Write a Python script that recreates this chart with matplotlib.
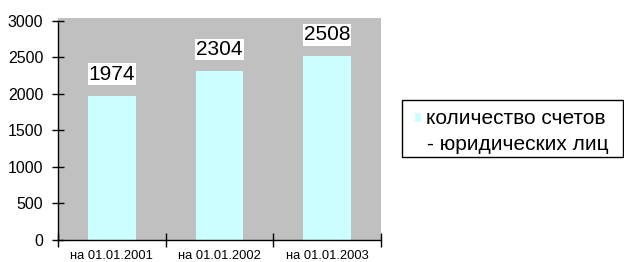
import matplotlib
matplotlib.use('Agg')
import matplotlib.pyplot as plt
from matplotlib.patches import Rectangle
import numpy as np

categories = ['на 01.01.2001', 'на 01.01.2002', 'на 01.01.2003']
values = [1974, 2304, 2508]
legend_line1 = 'количество счетов'
legend_line2 = '- юридических лиц'
yticks = [0, 500, 1000, 1500, 2000, 2500, 3000]

plt.rcParams['font.family'] = ['Liberation Sans', 'DejaVu Sans']

W, H = 624, 262
fig = plt.figure(figsize=(W / 100, H / 100), dpi=100)
ax = fig.add_axes([58 / W, 22 / H, 323 / W, 219.5 / H])

bar_color = '#CCFFFF'
bg = '#C0C0C0'

ax.set_facecolor('none')
ax.add_patch(Rectangle((0, 0), 1, 1.01, transform=ax.transAxes,
                       facecolor=bg, edgecolor='none', zorder=0, clip_on=False))

x = np.arange(len(categories))
ax.bar(x, values, width=0.44, color=bar_color, zorder=2)

for xi, v in zip(x, values):
    ax.annotate(str(v), (xi, v), xytext=(0, 15.5), textcoords='offset points',
                ha='center', va='center', fontsize=15, zorder=3,
                bbox=dict(boxstyle='square,pad=0.05', facecolor='white',
                          edgecolor='none'))

ax.set_xlim(-0.5, len(categories) - 0.5)
ax.set_ylim(0, 3000)
ax.set_yticks(yticks)
ax.tick_params(axis='y', direction='inout', length=9, width=1, labelsize=11.5,
               pad=6, color='black')

ax.set_xticks(x)
ax.set_xticklabels(categories, fontsize=9.3)
ax.tick_params(axis='x', which='major', length=0, pad=7.5)
ax.set_xticks(np.arange(-0.5, len(categories)), minor=True)
ax.tick_params(axis='x', which='minor', direction='inout', length=10, width=1)

for s in ['top', 'right']:
    ax.spines[s].set_visible(False)
for s in ['left', 'bottom']:
    ax.spines[s].set_color('black')
    ax.spines[s].set_linewidth(1)
    ax.spines[s].set_zorder(4)

# legend box
def px(xp, yp):
    return xp / W, 1 - yp / H

fig.patches.append(Rectangle(px(402, 157), 221 / W, 57 / H,
                             transform=fig.transFigure, facecolor='white',
                             edgecolor='black', linewidth=1))
fig.patches.append(Rectangle(px(415, 122), 6 / W, 9 / H,
                             transform=fig.transFigure, facecolor=bar_color,
                             edgecolor='none'))
fig.text(*px(426, 118), legend_line1, fontsize=15, va='center', ha='left')
fig.text(*px(427, 145), legend_line2, fontsize=15, va='center', ha='left')

fig.savefig('out.png', dpi=100)
